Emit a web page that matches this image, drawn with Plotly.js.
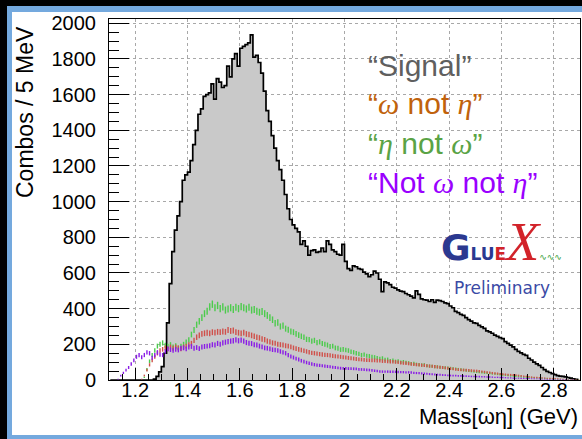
<!DOCTYPE html>
<html>
<head>
<meta charset="utf-8">
<script src="https://cdn.plot.ly/plotly-3.0.1.min.js"></script>
<style>
  html, body { margin: 0; padding: 0; background: #000; width: 582px; height: 439px; overflow: hidden; }
  #slide { position: absolute; left: 7px; top: 6px; width: 620px; height: 434px; box-sizing: border-box;
           border-left: 5px solid #74a9de; border-top: 6px solid #74a9de; border-bottom: 5px solid #74a9de;
           background: #fff; }
  #plot { position: absolute; left: 0; top: 0; width: 582px; height: 439px; }
</style>
</head>
<body>
<div id="slide"></div>
<div id="plot"></div>
<script>
// ---- histogram binning (GeV) ----
const binLow = 1.10;
const binWidth = 0.01;

// ---- "Signal" (grey filled histogram), combos per bin ----
const signal = [
  0,0,0,0,0,0,0,0,0,0,0,0,0,0,0,0,0,
  5,20,45,75,150,320,540,720,840,920,
  1000,1120,1150,1165,1230,1320,1400,1490,1520,1590,
  1600,1610,1660,1575,1690,1670,1640,1650,1760,1700,
  1800,1830,1760,1860,1870,1880,1890,1935,1810,1820,
  1780,1720,1620,1510,1450,1370,1300,1230,1180,1120,
  1040,960,900,870,850,830,760,780,750,700,
  725,730,715,720,740,720,780,760,730,720,
  705,700,760,665,625,615,640,635,625,620,
  605,595,580,590,610,600,565,495,550,545,
  535,520,515,505,498,495,485,478,470,460,
  500,480,455,450,448,440,450,435,448,445,
  440,432,428,415,405,385,378,368,362,350,
  338,330,320,318,306,298,290,275,270,262,
  252,245,238,232,215,205,196,186,172,160,
  152,144,138,122,112,100,90,82,70,58,
  48,42,36,30,25,22,20,18,14,10,
  7,4,2
];

// ---- "eta not omega" (green) ----
const etaNotOmega = [
  0,0,0,0,0,0,0,0,0,0,0,0,0,
  15,60,105,140,165,190,200,208,195,190,
  198,185,192,180,190,200,212,225,255,280,
  310,330,350,372,385,410,425,405,418,400,
  410,392,398,405,395,408,400,412,405,398,
  408,392,395,385,380,384,372,362,350,338,
  318,322,300,305,288,282,272,268,258,252,
  245,240,228,226,218,222,210,214,205,200,
  196,188,190,180,178,170,172,168,165,158,
  155,150,146,140,142,136,134,130,128,124,
  120,122,114,115,108,110,104,106,100,102,
  98,96,92,93,88,86,84,85,80,78,
  77,75,74,72,70,69,67,66,64,62,
  60,58,56,54,52,50,48,46,45,43,
  41,40,38,36,35,33,31,29,28,26,
  24,23,22,20,19,17,16,15,14,13,
  12,11,10,9,8,7,6,5,5,4,
  3,3,2,2,1,1,1
];

// ---- "omega not eta" (red) ----
const omegaNotEta = [
  0,0,0,0,0,0,0,0,0,0,0,0,
  5,25,55,85,110,130,150,165,172,180,
  175,185,178,186,180,175,185,190,198,205,
  222,240,250,258,262,265,262,268,266,270,
  268,272,270,280,275,278,268,265,262,266,
  258,255,250,245,240,236,230,226,218,214,
  208,206,200,198,196,192,190,186,180,176,
  172,168,164,160,156,152,150,148,145,143,
  141,140,138,135,133,132,130,128,126,124,
  122,120,118,116,115,113,112,111,110,110,
  109,108,106,105,104,103,102,101,99,97,
  95,94,92,90,88,86,85,83,82,80,
  78,77,75,73,72,70,68,66,64,62,
  60,58,57,56,55,54,53,52,51,49,
  47,45,43,41,39,37,36,34,32,31,
  30,29,28,27,25,23,21,20,18,16,
  15,14,13,12,11,10,9,9,8,7,
  6,5,4,3,3,2,2,1
];

// ---- "Not omega not eta" (purple) ----
const notOmegaNotEta = [
  0,0,0,
  5,25,40,55,70,90,110,130,140,128,
  140,155,150,125,140,155,142,140,160,175,
  170,165,172,168,178,180,175,185,188,178,
  182,176,185,188,190,192,198,196,205,200,
  208,212,215,218,220,225,220,224,218,210,
  206,204,198,196,190,186,180,178,174,170,
  168,165,160,155,150,140,132,126,120,115,
  108,103,98,94,90,86,84,82,80,78,
  76,74,72,70,68,66,65,65,64,64,
  63,62,60,59,58,57,56,54,52,50,
  48,47,47,47,46,46,46,45,44,44,
  43,43,42,40,39,38,37,36,35,33,
  32,31,30,29,28,27,26,25,24,24,
  23,23,22,22,21,20,20,19,19,18,
  18,17,17,16,15,15,14,14,13,12,
  12,11,10,10,9,9,8,8,7,7,
  6,6,5,5,4,4,3,3,3,2,
  2,2,1,1,1,0,0
];

// ---- texts ----
const xTitle = 'Mass[ωη] (GeV)';
const yTitle = 'Combos / 5 MeV';
const gk = s => '<i><span style="font-family:Liberation Serif">' + s + '</span></i>';
const legendLines = [
  '“Signal”',
  '“' + gk('ω') + ' not ' + gk('η') + '”',
  '“' + gk('η') + ' not ' + gk('ω') + '”',
  '“Not ' + gk('ω') + ' not ' + gk('η') + '”'
];
const legendColors = ['#5f5f5f', '#c0620c', '#5aa345', '#9a00ff'];
const logoText =
  '<span style="font-size:36px"><b>G</b></span>' +
  '<b>LU</b>' +
  '<span style="color:#d2232a"><b>E</b></span>' +
  '<span style="font-family:Liberation Serif;font-size:54px;color:#d2232a"><i>X</i></span>' +
  '<span style="font-size:9px;color:#3aa03a">∿∿∿</span>';
const logoSub = 'Preliminary';

// ---- geometry helpers (page pixels -> paper fractions) ----
const M = {l: 109, r: 2, t: 19, b: 59};
const W = 582, H = 439;
const pw = W - M.l - M.r, ph = H - M.t - M.b;
const px = p => (p - M.l) / pw;
const py = p => (H - M.b - p) / ph;

const x0 = binLow + binWidth / 2;

function errTrace(y, color) {
  return {
    type: 'scatter', mode: 'markers', x0: x0, dx: binWidth, y: y,
    marker: {size: 2, opacity: 0, color: color},
    error_y: {type: 'sqrt', color: color, thickness: 1.4, width: 0},
    hoverinfo: 'skip', showlegend: false
  };
}

const traces = [
  {
    type: 'scatter', mode: 'lines', x0: x0, dx: binWidth, y: signal,
    line: {shape: 'hvh', color: '#000', width: 1.7},
    fill: 'tozeroy', fillcolor: '#c9c9c9', showlegend: false, hoverinfo: 'skip'
  },
  errTrace(etaNotOmega, '#4ccb4c'),
  errTrace(omegaNotEta, '#d0504a'),
  errTrace(notOmegaNotEta, '#8a1ce6')
];

const ann = [];
const legY = [65, 104, 143, 182];
legendLines.forEach((t, i) => {
  ann.push({xref: 'paper', yref: 'paper', x: px(366), y: py(legY[i]), xanchor: 'left', yanchor: 'middle',
    text: t, showarrow: false, font: {family: 'Liberation Sans, Arial', size: 30, color: legendColors[i]}});
});
// axis titles
ann.push({xref: 'paper', yref: 'paper', x: px(580), y: py(417), xanchor: 'right', yanchor: 'middle',
  text: xTitle, showarrow: false, font: {family: 'Liberation Sans, Arial', size: 22, color: '#000'}});
ann.push({xref: 'paper', yref: 'paper', x: px(25), y: py(112), xanchor: 'center', yanchor: 'middle',
  textangle: -90, text: yTitle, showarrow: false, font: {family: 'Liberation Sans, Arial', size: 23, color: '#000'}});
// GlueX logo
ann.push({xref: 'paper', yref: 'paper', x: px(439), y: py(274), xanchor: 'left', yanchor: 'bottom',
  text: logoText, showarrow: false, font: {family: 'DejaVu Sans', size: 17, color: '#2b3990'}});
ann.push({xref: 'paper', yref: 'paper', x: px(502), y: py(288), xanchor: 'center', yanchor: 'middle',
  text: logoSub, showarrow: false, font: {family: 'DejaVu Sans', size: 17, color: '#3b4aa5'}});

const axisFont = {family: 'Liberation Sans, Arial', size: 20, color: '#000'};
const layout = {
  width: W, height: H,
  margin: M,
  paper_bgcolor: 'rgba(0,0,0,0)', plot_bgcolor: 'rgba(0,0,0,0)',
  showlegend: false,
  xaxis: {
    range: [1.1, 2.9], tick0: 1.2, dtick: 0.2, ticks: 'inside', ticklen: 12, tickwidth: 1, tickcolor: '#000',
    minor: {dtick: 0.05, tick0: 1.1, ticks: 'inside', ticklen: 6, tickcolor: '#000', showgrid: false},
    showgrid: true, gridcolor: '#a8a8a8', griddash: 'dot', gridwidth: 1,
    showline: true, linecolor: '#000', linewidth: 1, mirror: true, zeroline: false,
    tickfont: axisFont, ticklabelstandoff: -8
  },
  yaxis: {
    range: [0, 2024], tick0: 0, dtick: 200, ticks: 'inside', ticklen: 20, tickwidth: 1, tickcolor: '#000',
    minor: {dtick: 50, ticks: 'inside', ticklen: 10, tickcolor: '#000', showgrid: false},
    showgrid: true, gridcolor: '#a8a8a8', griddash: 'dot', gridwidth: 1,
    showline: true, linecolor: '#000', linewidth: 1, mirror: true, zeroline: false,
    tickfont: axisFont, ticklabelstandoff: 8
  },
  annotations: ann
};

Plotly.newPlot('plot', traces, layout, {staticPlot: true, displayModeBar: false});
</script>
</body>
</html>
